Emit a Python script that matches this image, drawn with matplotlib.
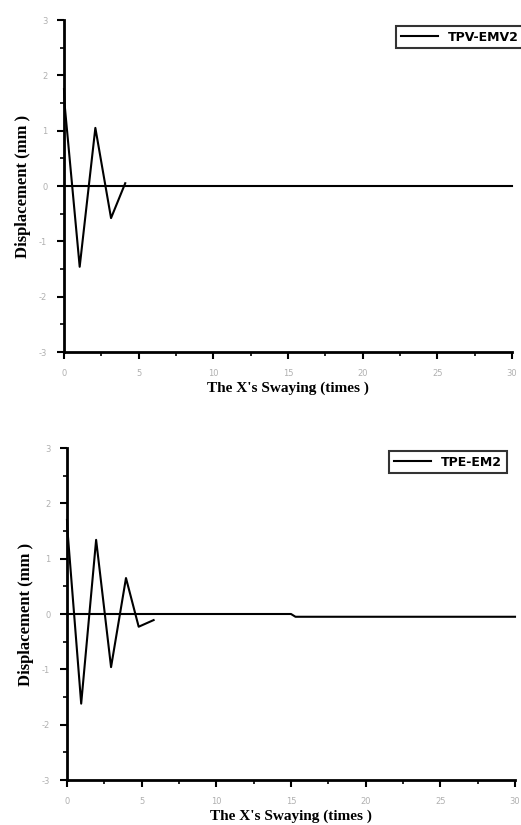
import numpy as np
import matplotlib
matplotlib.use("Agg")
import matplotlib.pyplot as plt

plt.rcParams['axes.unicode_minus'] = False

# swaying response
t_top = [0, 0.05, 1.05, 2.1, 3.15, 4.1]
d_top = [1.75, 1.45, -1.46, 1.05, -0.58, 0.05]
t_top_base = [0, 30]
d_top_base = [0, 0]

t_bot = [0, 0.05, 0.95, 1.95, 2.95, 3.95, 4.8, 5.8]
d_bot = [1.70, 1.45, -1.62, 1.34, -0.96, 0.65, -0.23, -0.11]
t_base = [0, 15, 15.3, 30]
d_base = [0, 0, -0.05, -0.05]

labels = ["TPV-EMV2", "TPE-EM2"]
xlab = "The X's Swaying (times )"
ylab = "Displacement (mm )"

fig = plt.figure(figsize=(5.21, 8.25), dpi=100)
ax1 = fig.add_axes([64/521, 1-352/825, 448/521, 332/825])
ax2 = fig.add_axes([67/521, 1-780/825, 448/521, 332/825])


def style(ax):
    ax.set_xlim(0, 30)
    ax.set_ylim(-3, 3)
    for s in ['top', 'right']:
        ax.spines[s].set_visible(False)
    for s in ['left', 'bottom']:
        ax.spines[s].set_linewidth(2)
    ax.set_xticks(np.arange(0, 31, 5))
    ax.set_xticks(np.arange(0, 31, 2.5), minor=True)
    ax.set_yticks(np.arange(-3, 4, 1))
    ax.set_yticks(np.arange(-3, 3.1, 0.5), minor=True)
    ax.tick_params(direction='out', length=5, width=1.5, labelsize=6,
                   labelcolor='#b0b0b0', pad=7)
    ax.tick_params(which='minor', direction='out', length=3, width=1.2)
    ax.set_xlabel(xlab, family='Liberation Serif', fontweight='bold', fontsize=11, labelpad=3)
    ax.set_ylabel(ylab, family='Liberation Serif', fontweight='bold', fontsize=12, labelpad=6)


ax1.plot(t_top_base, d_top_base, color='black', lw=1.5, zorder=3, clip_on=False)
ax1.plot(t_top, d_top, color='black', lw=1.5, zorder=3, clip_on=False, label=labels[0])
style(ax1)
ax1.legend(handles=[ax1.lines[1]], loc='upper left', bbox_to_anchor=(390/521, 1-20/825),
           bbox_transform=fig.transFigure, frameon=True, fancybox=False, edgecolor='black',
           handlelength=3, prop={'weight': 'bold', 'size': 9},
           borderpad=0.35).get_frame().set_linewidth(1.5)

ax2.plot(t_base, d_base, color='black', lw=1.5, zorder=3, clip_on=False)
ax2.plot(t_bot, d_bot, color='black', lw=1.5, zorder=3, clip_on=False, label=labels[1])
style(ax2)
ax2.legend(handles=[ax2.lines[1]], loc='upper left', bbox_to_anchor=(383/521, 1-445/825),
           bbox_transform=fig.transFigure, frameon=True, fancybox=False, edgecolor='black',
           handlelength=3, prop={'weight': 'bold', 'size': 9},
           borderpad=0.35).get_frame().set_linewidth(1.5)

fig.savefig('out.png', dpi=100)
